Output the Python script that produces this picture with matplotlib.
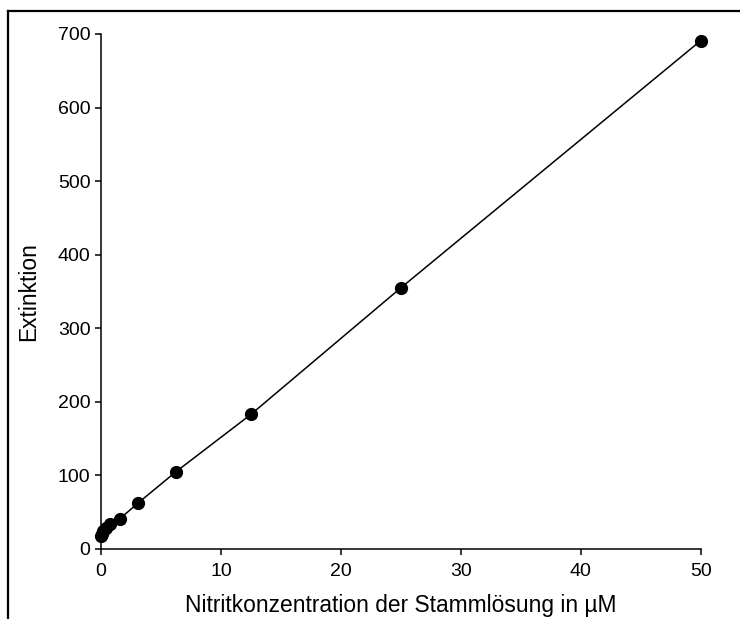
import matplotlib.pyplot as plt
from matplotlib.lines import Line2D

plt.rcParams['font.family'] = ['Liberation Sans', 'DejaVu Sans']

# serial dilution of the nitrite stock (µM) and measured extinction
konz = [0, 0.098, 0.195, 0.39, 0.78, 1.5625, 3.125, 6.25, 12.5, 25, 50]
extinktion = [17, 20, 24, 29, 34, 41, 63, 105, 183, 355, 691]

fig = plt.figure(figsize=(7.4, 6.19), dpi=100)
ax = fig.add_axes([0.1365, 0.1131, 0.8105, 0.832])

ax.plot(konz, extinktion, color='black', lw=1.1, marker='o', ms=8.5,
        clip_on=False, zorder=3)

ax.set_xlim(0, 50)
ax.set_ylim(0, 700)
ax.set_xticks([0, 10, 20, 30, 40, 50])
ax.set_yticks([0, 100, 200, 300, 400, 500, 600, 700])

for side in ['top', 'right']:
    ax.spines[side].set_visible(False)
for side in ['left', 'bottom']:
    ax.spines[side].set_linewidth(1.1)
ax.tick_params(direction='out', length=4.5, width=1.1, labelsize=14, pad=3)
ax.tick_params(axis='x', pad=5.5)

ax.set_xlabel('Nitritkonzentration der Stammlösung in µM', fontsize=16.4, labelpad=10)
ax.set_ylabel('Extinktion', fontsize=16.4, labelpad=13)

# partial frame around the figure (top and left edges)
fig.add_artist(Line2D([8 / 740, 1], [1 - 11 / 619, 1 - 11 / 619],
                      transform=fig.transFigure, color='black', lw=1.6))
fig.add_artist(Line2D([8 / 740, 8 / 740], [0, 1 - 11 / 619],
                      transform=fig.transFigure, color='black', lw=1.6))

fig.savefig('out.png', dpi=100)
